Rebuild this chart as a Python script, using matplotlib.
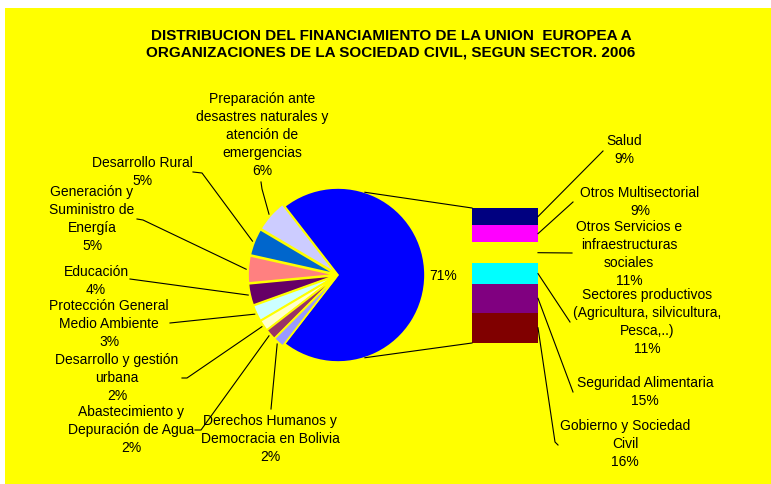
import numpy as np
import matplotlib
matplotlib.use("Agg")
import matplotlib.pyplot as plt
from matplotlib.patches import Rectangle

plt.rcParams['font.family'] = ['Liberation Sans', 'DejaVu Sans']

TITLE = ("DISTRIBUCION DEL FINANCIAMIENTO DE LA UNION  EUROPEA A\n"
         "ORGANIZACIONES DE LA SOCIEDAD CIVIL, SEGUN SECTOR. 2006")

# sectors shown in the pie (percent of total)
PIE_LABELS = [
    "Preparación ante\ndesastres naturales y\natención de\nemergencias",
    "Desarrollo Rural",
    "Generación y\nSuministro de\nEnergía",
    "Educación",
    "Protección General\nMedio Ambiente",
    "Desarrollo y gestión\nurbana",
    "Abastecimiento y\nDepuración de Agua",
    "Derechos Humanos y\nDemocracia en Bolivia",
]
PIE_VALUES = [6, 5, 5, 4, 3, 2, 2, 2]
PIE_COLORS = ["#CCCCFF", "#0066CC", "#FF8080", "#660066",
              "#CCFFFF", "#FFFFCC", "#993366", "#9999FF"]

# sectors broken out in the bar (percent of total)
BAR_LABELS = [
    "Salud",
    "Otros Multisectorial",
    "Otros Servicios e\ninfraestructuras\nsociales",
    "Sectores productivos\n(Agricultura, silvicultura,\nPesca,..)",
    "Seguridad Alimentaria",
    "Gobierno y Sociedad\nCivil",
]
BAR_VALUES = [9, 9, 11, 11, 15, 16]
BAR_COLORS = ["#000080", "#FF00FF", "#FFFF00", "#00FFFF", "#800080", "#800000"]
BIG_COLOR = "#0000FF"

W, H = 771, 485
CX, CY, R = 338, 276, 87
EXPL = 3
BAR_X0, BAR_X1, BAR_TOP, BAR_BOT = 472, 538, 209, 344

# label centres and leader elbows (pixel layout)
PIE_TXT = [(262, 135), (142, 172), (92, 219), (96, 281),
           (109, 324), (117, 378), (131, 430), (270, 439)]
PIE_ELBOW = [[(261, 183), (262, 190)], [(193, 173), (202, 174)],
             [(137, 220), (143, 221)], [(130, 280)],
             [(170, 324)], [(182, 379), (187, 379)],
             [(195, 431), (201, 431)], [(271, 410)]]
BAR_TXT = [(624, 150), (640, 202), (629, 254), (647, 322), (645, 392), (625, 444)]
BAR_ELBOW = [[(603, 152)], [(573, 203)], [(572, 254)], [(570, 323)],
             [(573, 393)], [(555, 443), (558, 446)]]

fig = plt.figure(figsize=(W / 100, H / 100), dpi=100, facecolor="white")
ax = fig.add_axes([0, 0, 1, 1])

big = sum(BAR_VALUES)
values = [big] + PIE_VALUES
colors = [BIG_COLOR] + PIE_COLORS
explode = [0] + [EXPL] * len(PIE_VALUES)
start = 180 * big / 100.0
wedges, _ = ax.pie(values, colors=colors, startangle=start, counterclock=False,
                   explode=explode, center=(CX, CY), radius=R, frame=True,
                   wedgeprops=dict(edgecolor="#FFFF00", linewidth=1.2))

ax.add_patch(Rectangle((5, 9), W - 5, H - 9, facecolor="#FFFF00",
                       edgecolor="none", zorder=0))
ax.set_xlim(0, W)
ax.set_ylim(H, 0)
ax.set_axis_off()

fs = 10
ls = 1.35

ax.text(CX + R * 1.21, CY, f"{big}%", ha="center", va="center", fontsize=fs)

# small slices: labels and leaders
for i, w in enumerate(wedges[1:]):
    th = np.deg2rad((w.theta1 + w.theta2) / 2)
    rr = R + EXPL + 2
    px, py = CX + rr * np.cos(th), CY + rr * np.sin(th)
    pts = PIE_ELBOW[i] + [(px, py)]
    ax.plot([p[0] for p in pts], [p[1] for p in pts], color="black", lw=0.8)
    tx, ty = PIE_TXT[i]
    ax.text(tx, ty, f"{PIE_LABELS[i]}\n{PIE_VALUES[i]}%", ha="center", va="center",
            multialignment="center", fontsize=fs, linespacing=ls)

# bar of pie
scale = (BAR_BOT - BAR_TOP) / big
bottoms = BAR_TOP + scale * np.concatenate([[0], np.cumsum(BAR_VALUES)[:-1]])
heights = scale * np.array(BAR_VALUES)
ax.bar([(BAR_X0 + BAR_X1) / 2] * len(BAR_VALUES), heights, width=BAR_X1 - BAR_X0,
       bottom=bottoms, color=BAR_COLORS, edgecolor="none", zorder=2)

for i in range(len(BAR_VALUES)):
    my = bottoms[i] + heights[i] / 2
    pts = [(BAR_X1, my)] + BAR_ELBOW[i]
    ax.plot([p[0] for p in pts], [p[1] for p in pts], color="black", lw=0.8)
    tx, ty = BAR_TXT[i]
    ax.text(tx, ty, f"{BAR_LABELS[i]}\n{BAR_VALUES[i]}%", ha="center", va="center",
            multialignment="center", fontsize=fs, linespacing=ls)

# connectors pie -> bar
a = np.deg2rad(72)
ax.plot([CX + R * np.cos(a), BAR_X0], [CY - R * np.sin(a), BAR_TOP], color="black", lw=0.8)
ax.plot([CX + R * np.cos(a), BAR_X0], [CY + R * np.sin(a), BAR_BOT], color="black", lw=0.8)

ax.text(391, 44, TITLE, ha="center", va="center", fontsize=11, fontweight="bold",
        linespacing=1.25)

fig.savefig("out.png", dpi=100, facecolor="white")
